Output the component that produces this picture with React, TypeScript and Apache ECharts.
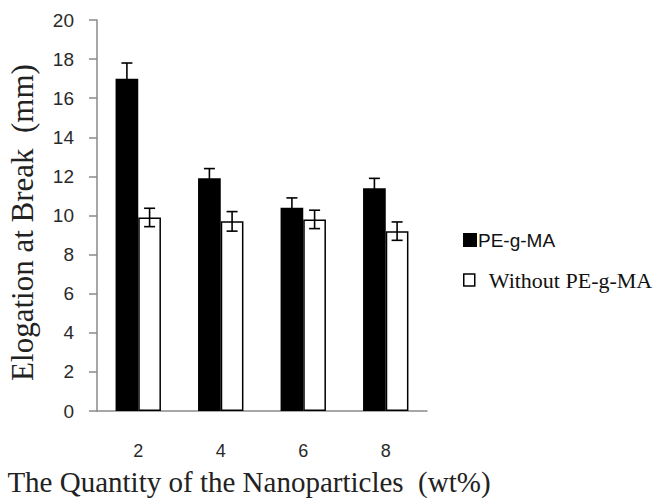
import React, { useEffect, useRef } from 'react';
import * as echarts from 'echarts';

const categories = ['2', '4', '6', '8'];
const withPeValues = [17, 11.9, 10.4, 11.4];
const withPeErrors = [0.8, 0.5, 0.5, 0.5];
const withoutPeValues = [9.9, 9.7, 9.8, 9.2];
const withoutPeErrors = [0.47, 0.5, 0.47, 0.47];
const yMin = 0;
const yMax = 20;
const yInterval = 2;

const SERIES_A = 'PE-g-MA';
const SERIES_B = 'Without PE-g-MA';
const CAT_GAP = 0.45;
const SANS = "'Liberation Sans', sans-serif";

function errorSeries(name: string, values: number[], errors: number[], sign: number) {
  return {
    type: 'custom',
    name,
    z: 5,
    data: values.map((v, i) => [i, v, errors[i]]),
    encode: { x: 0, y: 1 },
    renderItem: (params: any, api: any) => {
      const idx = api.value(0);
      const v = api.value(1);
      const e = api.value(2);
      const catW = api.size([1, 0])[0];
      const off = (sign * catW * (1 - CAT_GAP)) / 4;
      const top = api.coord([idx, v + e]);
      const bot = api.coord([idx, v - e]);
      const x = top[0] + off;
      const hw = 5.5;
      const style = { stroke: '#000', lineWidth: 1.6 };
      return {
        type: 'group',
        children: [
          { type: 'line', shape: { x1: x, y1: top[1], x2: x, y2: bot[1] }, style },
          { type: 'line', shape: { x1: x - hw, y1: top[1], x2: x + hw, y2: top[1] }, style },
          { type: 'line', shape: { x1: x - hw, y1: bot[1], x2: x + hw, y2: bot[1] }, style },
        ],
      };
    },
  };
}

export default function App() {
  const ref = useRef<HTMLDivElement>(null);
  useEffect(() => {
    if (!ref.current) return;
    const chart = echarts.init(ref.current, undefined, { renderer: 'svg' });
    const axisColor = '#8a8a8a';
    chart.setOption({
      animation: false,
      backgroundColor: '#fff',
      grid: {
        left: 97,
        right: 229,
        top: 20,
        bottom: 88,
        containLabel: false,
        outerBoundsMode: 'none',
      },
      legend: [
        {
          data: [{ name: SERIES_A, icon: 'rect', itemStyle: { color: '#000' } }],
          left: 463,
          top: 230,
          padding: 0,
          itemWidth: 12,
          itemHeight: 12,
          textStyle: {
            fontFamily: SANS,
            fontSize: 19,
            lineHeight: 20,
            color: '#111',
            padding: [0, 0, 0, -3],
          },
        },
        {
          data: [
            {
              name: SERIES_B,
              icon: 'rect',
              itemStyle: { color: '#fff', borderColor: '#000', borderWidth: 1.5 },
            },
          ],
          left: 463,
          top: 268,
          padding: 0,
          itemWidth: 11,
          itemHeight: 12,
          textStyle: {
            fontFamily: 'Liberation Serif',
            fontSize: 22,
            lineHeight: 24,
            color: '#111',
            padding: [0, 0, 0, 9],
          },
        },
      ],
      xAxis: {
        type: 'category',
        data: categories,
        axisTick: { show: false },
        axisLine: { show: true, lineStyle: { color: axisColor, width: 1.5 } },
        axisLabel: {
          margin: 31,
          fontFamily: SANS,
          fontSize: 18,
          color: '#2a2a2a',
        },
        name: 'The Quantity of the Nanoparticles  (wt%)',
        nameLocation: 'middle',
        nameGap: 56,
        nameTextStyle: {
          fontFamily: 'Liberation Serif',
          fontSize: 29,
          color: '#222',
          padding: [0, 26, 0, 0],
        },
      },
      yAxis: {
        type: 'value',
        min: yMin,
        max: yMax,
        interval: yInterval,
        splitLine: { show: false },
        axisLine: { show: true, lineStyle: { color: axisColor, width: 1.5 } },
        axisTick: { show: true, inside: false, length: 8, lineStyle: { color: axisColor, width: 1.5 } },
        axisLabel: {
          margin: 23,
          fontFamily: SANS,
          fontSize: 19,
          color: '#2a2a2a',
        },
        name: 'Elogation at Break  (mm)',
        nameLocation: 'middle',
        nameRotate: 90,
        nameGap: 59,
        nameTextStyle: {
          fontFamily: 'Liberation Serif',
          fontSize: 31,
          color: '#222',
          padding: [0, 14, 0, 0],
        },
      },
      series: [
        {
          type: 'bar',
          name: SERIES_A,
          data: withPeValues,
          barGap: '0%',
          barCategoryGap: CAT_GAP * 100 + '%',
          itemStyle: { color: '#000', borderColor: '#000', borderWidth: 1.5 },
        },
        {
          type: 'bar',
          name: SERIES_B,
          data: withoutPeValues,
          barGap: '0%',
          barCategoryGap: CAT_GAP * 100 + '%',
          itemStyle: { color: '#fff', borderColor: '#000', borderWidth: 1.5 },
        },
        errorSeries('PE-g-MA error', withPeValues, withPeErrors, -1),
        errorSeries('Without PE-g-MA error', withoutPeValues, withoutPeErrors, 1),
      ],
    });
    return () => chart.dispose();
  }, []);
  return (
    <div
      ref={ref}
      style={{ position: 'fixed', left: 0, top: 0, width: 656, height: 499, background: '#fff' }}
    />
  );
}
